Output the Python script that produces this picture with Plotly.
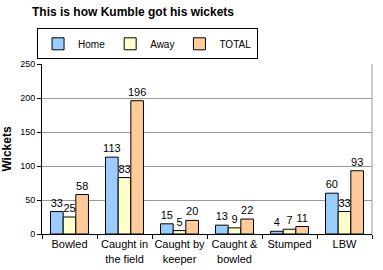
import plotly.graph_objects as go

categories = ["Bowled", "Caught in<br>the field", "Caught by<br>keeper", "Caught &<br>bowled", "Stumped", "LBW"]
home = [33, 113, 15, 13, 4, 60]
away = [25, 83, 5, 9, 7, 33]
total = [58, 196, 20, 22, 11, 93]
y_ticks = [0, 50, 100, 150, 200, 250]

series = [("Home", home, "#99CCFF"), ("Away", away, "#FFFFCC"), ("TOTAL", total, "#FFCC99")]

fig = go.Figure()
for name, vals, col in series:
    fig.add_trace(go.Bar(
        name=name, x=categories, y=vals,
        marker=dict(color=col, line=dict(color="black", width=1)),
        text=vals, textposition="outside", cliponaxis=False,
        textfont=dict(family="Liberation Sans, Arial", size=11, color="black"),
    ))

fig.update_layout(
    width=383, height=270,
    margin=dict(l=42, r=11, t=64, b=36),
    paper_bgcolor="white", plot_bgcolor="white",
    barmode="group", bargap=0.31, bargroupgap=0,
    font=dict(family="Liberation Sans, Arial", size=10, color="black"),
    title=dict(text="<b>This is how Kumble got his wickets</b>", x=32/383, xanchor="left",
               y=1 - 12/270, yanchor="middle", font=dict(size=12)),
    legend=dict(orientation="h", x=-0.015, xanchor="left", y=1.21, yanchor="top",
                bordercolor="black", borderwidth=1, font=dict(size=10),
                itemwidth=30, traceorder="normal"),
    uniformtext=dict(minsize=8, mode="show"),
    showlegend=True,
)
fig.update_xaxes(
    showline=True, linecolor="black", linewidth=1, tickangle=0, automargin=False,
    ticks="outside", tickson="boundaries", ticklen=4, tickcolor="black",
    tickfont=dict(size=11), showgrid=False,
)
fig.update_yaxes(
    range=[0, 250], tickvals=y_ticks, showline=True, linecolor="black", linewidth=1,
    ticks="outside", ticklen=4, tickcolor="black", automargin=False,
    showgrid=True, gridcolor="#999999", gridwidth=1,
    tickfont=dict(size=9),
    title=dict(text="<b>Wickets</b>", font=dict(size=12), standoff=8),
    zeroline=False,
)
fig.add_shape(type="line", xref="paper", yref="paper", x0=1, x1=1, y0=0, y1=1,
              line=dict(color="#999999", width=1))
fig.write_html("out.html")
